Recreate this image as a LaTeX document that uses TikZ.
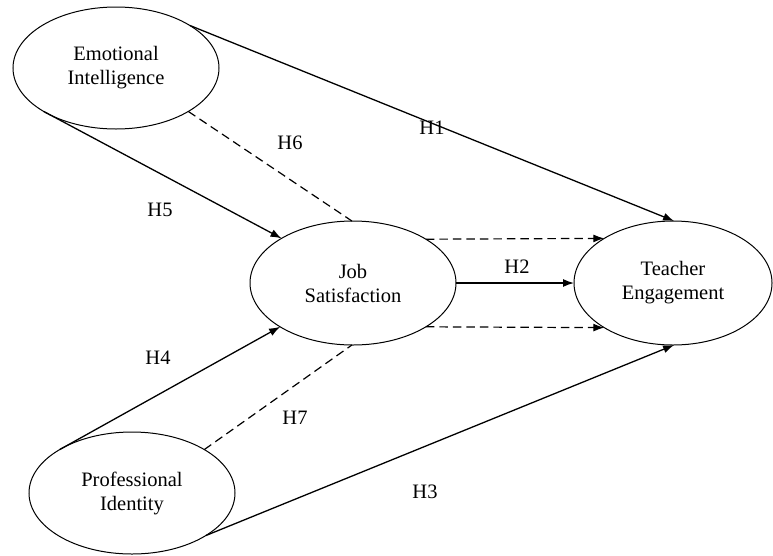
\documentclass[tikz,border=0pt]{standalone}
\usepackage{fontspec}
\setmainfont{Liberation Serif}
\usetikzlibrary{shapes.geometric,arrows.meta}
\begin{document}
\begin{tikzpicture}[x=1pt,y=-1pt,
  construct/.style={ellipse,draw,line width=1pt,inner sep=0pt,outer sep=0pt,align=center,
    font=\fontsize{20.5}{24}\selectfont},
  hlabel/.style={font=\fontsize{20.5}{22}\selectfont},
  path/.style={line width=1.3pt,-{Latex[length=11pt,width=8pt]}},
  dpath/.style={line width=1.2pt,dash pattern=on 8.5pt off 5pt},
  dpatharrow/.style={dpath,-{Latex[length=11pt,width=8pt]}}]
\useasboundingbox (0,0) rectangle (773,555);
\node[construct,minimum width=206pt,minimum height=122pt] (ei) at (116,68) {Emotional\\Intelligence};
\node[construct,minimum width=206pt,minimum height=124pt] (js) at (353,283) {Job\\Satisfaction};
\node[construct,minimum width=198pt,minimum height=124pt] (te) at (673,283) {Teacher\\Engagement};
\node[construct,minimum width=206pt,minimum height=122pt] (pi) at (132,493) {Professional\\Identity};
\draw[path] (ei.30.7) -- (te.89);
\draw[path] (ei.211) -- (js.148.4);
\draw[dpath] (ei.329) -- (js.91);
\draw[dpatharrow] (js.31.4) -- (te.147.5);
\draw[path] (js.east) -- (te.west);
\draw[dpatharrow] (js.-31.4) -- (te.-147.5);
\draw[path] (pi.149) -- (js.211.6);
\draw[dpath] (pi.31) -- (js.269);
\draw[path] (pi.330.2) -- (te.271);
\node[hlabel] (h1) at (432,128) {H1};
\node[hlabel] (h6) at (290,143) {H6};
\node[hlabel] (h5) at (160,210) {H5};
\node[hlabel] (h2) at (517,267) {H2};
\node[hlabel] (h4) at (158,358) {H4};
\node[hlabel] (h7) at (295,418) {H7};
\node[hlabel] (h3) at (425,492) {H3};
\end{tikzpicture}
\end{document}
